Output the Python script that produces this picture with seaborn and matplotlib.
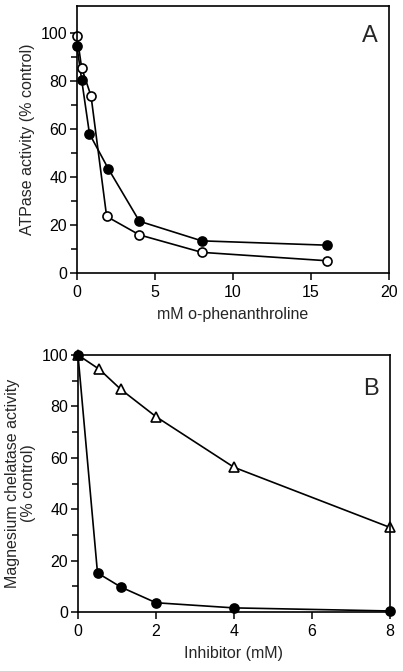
import numpy as np
import pandas as pd
import matplotlib
matplotlib.use("Agg")
import matplotlib.pyplot as plt
from matplotlib.ticker import FixedLocator
import seaborn as sns

sns.set_style("ticks")
plt.rcParams['font.family'] = ['Liberation Sans', 'DejaVu Sans']

# Panel A: ATPase activity vs o-phenanthroline
phen_mM = [0, 0.3, 0.8, 2, 4, 8, 16]
atpase_filled = [94.5, 80.5, 58, 43.5, 21.5, 13.3, 11.5]
phen_open_mM = [0, 0.3, 0.9, 1.9, 4, 8, 16]
atpase_open = [99, 85.5, 73.8, 23.5, 15.8, 8.5, 5.0]

# Panel B: Magnesium chelatase activity vs inhibitor
inhib_filled_mM = [0, 0.5, 1.1, 2, 4, 8]
chelatase_filled = [100, 15.2, 9.7, 3.6, 1.6, 0.4]
inhib_tri_mM = [0, 0.55, 1.1, 2, 4, 8]
chelatase_tri = [100, 94.4, 86.6, 76, 56.3, 32.9]

y_major = [0, 20, 40, 60, 80, 100]
y_minor = [10, 30, 50, 70, 90]

fig = plt.figure(figsize=(4.03, 6.71), dpi=100)
axA = fig.add_axes([77/403, 398.3/671, 312/403, 266.7/671])
axB = fig.add_axes([78/403, 59/671, 312/403, 257/671])

lw = 1.2
ms = 6.5
tick_fs = 11.5

def style_axis(ax):
    for s in ax.spines.values():
        s.set_linewidth(1.2)
        s.set_color('black')
    ax.tick_params(which='both', direction='out', width=1.1, color='black',
                   labelsize=tick_fs, labelcolor='black')
    ax.tick_params(which='major', length=5, pad=2)
    ax.tick_params(axis='x', which='major', pad=4)
    ax.tick_params(which='minor', length=4)

# Panel A
sns.lineplot(x=phen_mM, y=atpase_filled, ax=axA, color='black', lw=lw,
             marker='o', markersize=ms, markerfacecolor='black',
             markeredgecolor='black', markeredgewidth=1.2, clip_on=False)
sns.lineplot(x=phen_open_mM, y=atpase_open, ax=axA, color='black', lw=lw,
             marker='o', markersize=ms, markerfacecolor='white',
             markeredgecolor='black', markeredgewidth=1.2, clip_on=False)
axA.set_xlim(0, 20)
axA.set_ylim(0, 111.4)
axA.set_xticks([0, 5, 10, 15, 20])
axA.set_yticks(y_major)
axA.yaxis.set_minor_locator(FixedLocator(y_minor))
axA.set_xlabel('mM o-phenanthroline', fontsize=tick_fs, labelpad=5)
axA.set_ylabel('ATPase activity (% control)', fontsize=tick_fs, labelpad=4)
axA.text(0.965, 0.93, 'A', transform=axA.transAxes, fontsize=17,
         ha='right', va='top')
style_axis(axA)

# Panel B
sns.lineplot(x=inhib_tri_mM, y=chelatase_tri, ax=axB, color='black', lw=lw,
             marker='^', markersize=ms + 1, markerfacecolor='white',
             markeredgecolor='black', markeredgewidth=1.2, clip_on=False)
sns.lineplot(x=inhib_filled_mM, y=chelatase_filled, ax=axB, color='black', lw=lw,
             marker='o', markersize=ms, markerfacecolor='black',
             markeredgecolor='black', markeredgewidth=1.2, clip_on=False)
axB.set_xlim(0, 8)
axB.set_ylim(0, 100)
axB.set_xticks([0, 2, 4, 6, 8])
axB.set_yticks(y_major)
axB.yaxis.set_minor_locator(FixedLocator(y_minor))
axB.set_xlabel('Inhibitor (mM)', fontsize=tick_fs, labelpad=5)
axB.set_ylabel('Magnesium chelatase activity\n(% control)', fontsize=tick_fs,
               labelpad=4, linespacing=1.1)
axB.text(0.965, 0.91, 'B', transform=axB.transAxes, fontsize=17,
         ha='right', va='top')
style_axis(axB)

fig.savefig('out.png', dpi=100)
